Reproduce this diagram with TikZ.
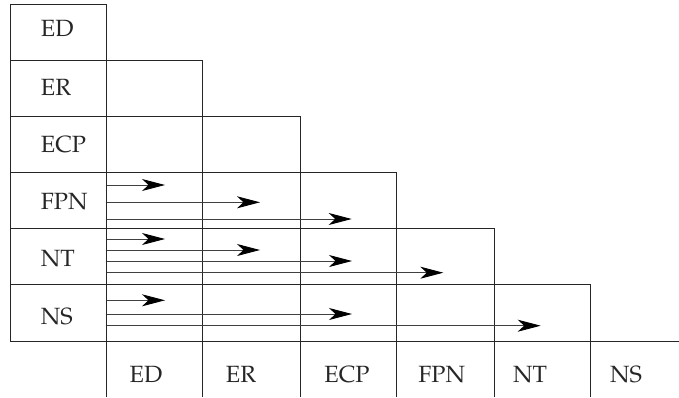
\documentclass[tikz,border=0pt]{standalone}
\IfFileExists{mathpazo.sty}{%
  \usepackage[T1]{fontenc}\usepackage{mathpazo}}{%
  \usepackage{fontspec}\setmainfont{Liberation Serif}}
\usetikzlibrary{arrows.meta}

\tikzset{
  gridline/.style={line width=1pt, draw=black!85},
  flow/.style={line width=0.9pt, draw=black!75,
    -{Stealth[length=23pt, width=12pt, inset=6.5pt, color=black, fill=black]}},
  lab/.style={inner sep=0pt, font=\fontsize{23.5}{28}\selectfont, text=black!85},
}

\begin{document}
\begin{tikzpicture}[x=1pt, y=-1pt]
  \useasboundingbox (0,0) rectangle (679,397);

  % column and row boundaries
  \def\Xa{10}\def\Xb{106.7}\def\Xc{202.5}\def\Xd{300}\def\Xe{396.8}\def\Xf{494}\def\Xg{590}
  \def\Ya{4.3}\def\Yb{60.3}\def\Yc{116.7}\def\Yd{172.7}\def\Ye{228.5}\def\Yf{284.7}\def\Yg{341}

  % row header column
  \draw[gridline] (\Xa,\Ya) rectangle (\Xb,\Yg);
  \foreach \y in {\Yb,\Yc,\Yd,\Ye,\Yf}
    \draw[gridline] (\Xa,\y) -- (\Xb,\y);

  % staircase of cells below the diagonal
  \draw[gridline] (\Xb,\Yb) rectangle (\Xc,\Yc);
  \draw[gridline] (\Xb,\Yc) rectangle (\Xc,\Yd);
  \draw[gridline] (\Xc,\Yc) rectangle (\Xd,\Yd);
  \foreach \xl/\xr in {\Xb/\Xc,\Xc/\Xd,\Xd/\Xe}
    \draw[gridline] (\xl,\Yd) rectangle (\xr,\Ye);
  \foreach \xl/\xr in {\Xb/\Xc,\Xc/\Xd,\Xd/\Xe,\Xe/\Xf}
    \draw[gridline] (\xl,\Ye) rectangle (\xr,\Yf);
  \foreach \xl/\xr in {\Xb/\Xc,\Xc/\Xd,\Xd/\Xe,\Xe/\Xf,\Xf/\Xg}
    \draw[gridline] (\xl,\Yf) rectangle (\xr,\Yg);

  % column header row
  \draw[gridline] (\Xb,\Yg) -- (679,\Yg);
  \foreach \x in {\Xb,\Xc,\Xd,\Xe,\Xf,\Xg}
    \draw[gridline] (\x,\Yg) -- (\x,397);

  % row labels
  \node[lab, anchor=base west] (rED)  at (40.7,36.7)  {ED};
  \node[lab, anchor=base west] (rER)  at (40.7,95)    {ER};
  \node[lab, anchor=base west] (rECP) at (40.7,152.7) {ECP};
  \node[lab, anchor=base west] (rFPN) at (40.7,209.3) {FPN};
  \node[lab, anchor=base west] (rNT)  at (40.7,266.7) {NT};
  \node[lab, anchor=base west] (rNS)  at (40.7,324.3) {NS};

  % column labels
  \node[lab, anchor=base] (cED)  at (146,382.3)   {ED};
  \node[lab, anchor=base] (cER)  at (241,382.3)   {ER};
  \node[lab, anchor=base] (cECP) at (347,382.3)   {ECP};
  \node[lab, anchor=base] (cFPN) at (441.7,382.3) {FPN};
  \node[lab, anchor=base] (cNT)  at (530,382.3)   {NT};
  \node[lab, anchor=base] (cNS)  at (626,382.3)   {NS};

  % arrow end points in the FPN row
  \coordinate (fa0) at (\Xb,185);   \coordinate (fa1) at (165,185);
  \coordinate (fb0) at (\Xb,202.3); \coordinate (fb1) at (260,202.3);
  \coordinate (fc0) at (\Xb,219);   \coordinate (fc1) at (351.7,219);
  % arrow end points in the NT row
  \coordinate (na0) at (\Xb,239);   \coordinate (na1) at (165,239);
  \coordinate (nb0) at (\Xb,250);   \coordinate (nb1) at (260,250);
  \coordinate (nc0) at (\Xb,261);   \coordinate (nc1) at (352,261);
  \coordinate (nd0) at (\Xb,272.7); \coordinate (nd1) at (443.3,272.7);
  % arrow end points in the NS row
  \coordinate (sa0) at (\Xb,300.3); \coordinate (sa1) at (165,300.3);
  \coordinate (sb0) at (\Xb,314);   \coordinate (sb1) at (352,314);
  \coordinate (sc0) at (\Xb,325.7); \coordinate (sc1) at (540.7,325.7);

  \foreach \a in {fa,fb,fc,na,nb,nc,nd,sa,sb,sc}
    \draw[flow] (\a0) -- (\a1);
\end{tikzpicture}
\end{document}
